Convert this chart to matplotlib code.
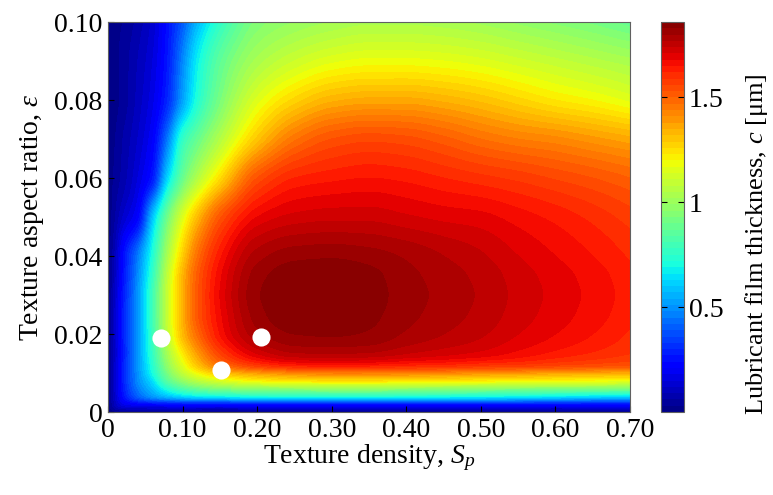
import numpy as np
import matplotlib
matplotlib.use("Agg")
import matplotlib.pyplot as plt

plt.rcParams['font.family'] = ['Liberation Serif', 'DejaVu Serif']
plt.rcParams['mathtext.fontset'] = 'custom'
plt.rcParams['mathtext.rm'] = 'Liberation Serif'
plt.rcParams['mathtext.it'] = 'Liberation Serif:italic'

# Grid of texture density (x) and aspect ratio (y)
S_p = [0, 0.01, 0.02, 0.04, 0.06, 0.08, 0.10, 0.12, 0.15, 0.20,
       0.25, 0.30, 0.35, 0.40, 0.45, 0.50, 0.55, 0.60, 0.65, 0.70]
eps = [0, 0.002, 0.004, 0.006, 0.008, 0.010, 0.012, 0.015, 0.020, 0.025,
       0.030, 0.035, 0.040, 0.050, 0.060, 0.070, 0.080, 0.090, 0.100]

# Lubricant film thickness c [um], one row per eps value
c_e0000 = [0.00, 0.02, 0.02, 0.02, 0.02, 0.02, 0.02, 0.02, 0.02, 0.02, 0.02, 0.02, 0.02, 0.02, 0.02, 0.02, 0.02, 0.02, 0.02, 0.02]
c_e0002 = [0.00, 0.10, 0.17, 0.21, 0.23, 0.24, 0.25, 0.25, 0.25, 0.26, 0.26, 0.26, 0.26, 0.26, 0.26, 0.26, 0.26, 0.25, 0.25, 0.25]
c_e0004 = [0.00, 0.12, 0.24, 0.40, 0.50, 0.57, 0.62, 0.65, 0.67, 0.70, 0.71, 0.71, 0.71, 0.70, 0.69, 0.68, 0.67, 0.65, 0.63, 0.62]
c_e0006 = [0.00, 0.13, 0.26, 0.45, 0.58, 0.72, 0.82, 0.88, 0.93, 0.96, 0.97, 0.98, 0.98, 0.97, 0.96, 0.95, 0.94, 0.93, 0.93, 0.92]
c_e0008 = [0.00, 0.13, 0.27, 0.48, 0.64, 0.85, 0.97, 1.06, 1.13, 1.20, 1.23, 1.24, 1.24, 1.23, 1.22, 1.21, 1.20, 1.19, 1.18, 1.17]
c_e0010 = [0.00, 0.13, 0.27, 0.49, 0.70, 0.92, 1.08, 1.19, 1.30, 1.38, 1.42, 1.44, 1.44, 1.43, 1.42, 1.40, 1.39, 1.37, 1.36, 1.35]
c_e0012 = [0.00, 0.13, 0.27, 0.50, 0.73, 0.97, 1.15, 1.30, 1.46, 1.58, 1.63, 1.64, 1.635, 1.62, 1.61, 1.59, 1.58, 1.56, 1.545, 1.53]
c_e0015 = [0.00, 0.12, 0.26, 0.50, 0.76, 1.02, 1.22, 1.38, 1.56, 1.71, 1.765, 1.77, 1.765, 1.74, 1.72, 1.70, 1.67, 1.64, 1.615, 1.59]
c_e0020 = [0.00, 0.13, 0.27, 0.50, 0.78, 1.08, 1.32, 1.48, 1.65, 1.79, 1.83, 1.835, 1.825, 1.795, 1.77, 1.745, 1.71, 1.68, 1.65, 1.615]
c_e0025 = [0.00, 0.13, 0.27, 0.50, 0.79, 1.10, 1.34, 1.52, 1.67, 1.815, 1.855, 1.86, 1.84, 1.81, 1.785, 1.76, 1.725, 1.695, 1.665, 1.63]
c_e0030 = [0.00, 0.12, 0.26, 0.50, 0.79, 1.10, 1.34, 1.52, 1.68, 1.825, 1.86, 1.865, 1.845, 1.815, 1.79, 1.765, 1.73, 1.70, 1.67, 1.635]
c_e0035 = [0.00, 0.11, 0.24, 0.48, 0.76, 1.08, 1.33, 1.51, 1.67, 1.815, 1.85, 1.855, 1.84, 1.81, 1.785, 1.76, 1.725, 1.695, 1.665, 1.63]
c_e0040 = [0.00, 0.10, 0.23, 0.45, 0.72, 1.03, 1.28, 1.47, 1.64, 1.785, 1.82, 1.825, 1.815, 1.795, 1.77, 1.745, 1.71, 1.68, 1.65, 1.615]
c_e0050 = [0.00, 0.06, 0.12, 0.22, 0.58, 0.90, 1.14, 1.32, 1.52, 1.68, 1.72, 1.73, 1.73, 1.715, 1.70, 1.69, 1.665, 1.64, 1.61, 1.575]
c_e0060 = [0.00, 0.04, 0.07, 0.15, 0.27, 0.62, 0.88, 1.05, 1.25, 1.53, 1.62, 1.64, 1.65, 1.64, 1.62, 1.60, 1.58, 1.555, 1.53, 1.50]
c_e0070 = [0.00, 0.03, 0.06, 0.12, 0.21, 0.45, 0.75, 0.88, 1.05, 1.30, 1.46, 1.53, 1.55, 1.54, 1.51, 1.47, 1.44, 1.42, 1.39, 1.36]
c_e0080 = [0.00, 0.02, 0.04, 0.10, 0.17, 0.30, 0.52, 0.72, 0.92, 1.15, 1.27, 1.34, 1.36, 1.36, 1.34, 1.31, 1.27, 1.23, 1.20, 1.16]
c_e0090 = [0.00, 0.02, 0.04, 0.09, 0.15, 0.27, 0.47, 0.67, 0.86, 1.03, 1.11, 1.16, 1.18, 1.18, 1.17, 1.15, 1.12, 1.09, 1.06, 1.03]
c_e0100 = [0.00, 0.02, 0.03, 0.07, 0.13, 0.25, 0.39, 0.56, 0.75, 0.94, 0.99, 1.02, 1.04, 1.04, 1.03, 1.01, 0.98, 0.95, 0.92, 0.88]

C = np.array([c_e0000, c_e0002, c_e0004, c_e0006, c_e0008, c_e0010, c_e0012,
              c_e0015, c_e0020, c_e0025, c_e0030, c_e0035, c_e0040, c_e0050,
              c_e0060, c_e0070, c_e0080, c_e0090, c_e0100])

# Marked textures (white dots)
dot_S = [0.071, 0.152, 0.205]
dot_eps = [0.019, 0.0108, 0.0192]

x_ticks = [0, 0.10, 0.20, 0.30, 0.40, 0.50, 0.60, 0.70]
x_ticklabels = ['0', '0.10', '0.20', '0.30', '0.40', '0.50', '0.60', '0.70']
y_ticks = [0, 0.02, 0.04, 0.06, 0.08, 0.10]
y_ticklabels = ['0', '0.02', '0.04', '0.06', '0.08', '0.10']
cb_ticks = [0.5, 1, 1.5]
cb_ticklabels = ['0.5', '1', '1.5']

CMIN, CMAX = 0.0, 1.86


def pchip_cols(x, Y, xn):
    """Shape-preserving cubic Hermite resampling of each column of Y (rendering only)."""
    x = np.asarray(x, float)
    Y = np.asarray(Y, float)
    h = np.diff(x)[:, None]
    d = np.diff(Y, axis=0) / h
    m = np.zeros_like(Y)
    w1 = 2 * h[1:] + h[:-1]
    w2 = h[1:] + 2 * h[:-1]
    same = (d[:-1] * d[1:]) > 0
    with np.errstate(divide='ignore', invalid='ignore'):
        hm = (w1 + w2) / (w1 / d[:-1] + w2 / d[1:])
    m[1:-1] = np.where(same, hm, 0.0)

    def edge(h0, h1, d0, d1):
        e = ((2 * h0 + h1) * d0 - h0 * d1) / (h0 + h1)
        e = np.where(np.sign(e) != np.sign(d0), 0.0, e)
        e = np.where((np.sign(d0) != np.sign(d1)) & (np.abs(e) > 3 * np.abs(d0)), 3 * d0, e)
        return e

    m[0] = edge(h[0], h[1], d[0], d[1])
    m[-1] = edge(h[-1], h[-2], d[-1], d[-2])
    k = np.clip(np.searchsorted(x, xn) - 1, 0, len(x) - 2)
    hk = (x[k + 1] - x[k])[:, None]
    t = ((xn - x[k]) / (x[k + 1] - x[k]))[:, None]
    h00 = 2 * t**3 - 3 * t**2 + 1
    h10 = t**3 - 2 * t**2 + t
    h01 = -2 * t**3 + 3 * t**2
    h11 = t**3 - t**2
    return h00 * Y[k] + h10 * hk * m[k] + h01 * Y[k + 1] + h11 * hk * m[k + 1]


fig = plt.figure(figsize=(7.73, 4.95), dpi=100)
ax = fig.add_axes([108/773, 83/495, 522/773, 390/495])
cax = fig.add_axes([661/773, 83/495, 23/773, 390/495])

# Smooth, overshoot-free rendering of the read grid
xs = np.linspace(S_p[0], S_p[-1], 420)
ys = np.linspace(eps[0], eps[-1], 360)
tmp = pchip_cols(eps, C, ys)            # along eps
Cf = pchip_cols(S_p, tmp.T, xs).T       # along S
Cf = np.clip(Cf, CMIN, CMAX - 1e-6)

levels = np.linspace(CMIN, CMAX, 63)
cf = ax.contourf(xs, ys, Cf, levels=levels, cmap='jet', vmin=CMIN, vmax=CMAX)
ax.scatter(dot_S, dot_eps, s=170, color='white', zorder=5, linewidths=0)

ax.set_xlim(0, 0.70)
ax.set_ylim(0, 0.10)
ax.set_xticks(x_ticks)
ax.set_xticklabels(x_ticklabels)
ax.set_yticks(y_ticks)
ax.set_yticklabels(y_ticklabels)
ax.tick_params(direction='in', labelsize=20, length=4, pad=4)
for sp in ax.spines.values():
    sp.set_linewidth(0.8)
    sp.set_color('#606060')
ax.set_xlabel('Texture density, $S_p$', fontsize=20, labelpad=0)
ax.set_ylabel('Texture aspect ratio, $\\varepsilon$', fontsize=20, labelpad=6)

cb = fig.colorbar(cf, cax=cax, ticks=cb_ticks)
cb.set_ticklabels(cb_ticklabels)
cb.ax.set_ylim(0, CMAX)
cb.ax.tick_params(direction='in', labelsize=20, length=4, left=True, right=True)
cb.outline.set_linewidth(0.8)
cb.outline.set_edgecolor('#606060')
cb.set_label('Lubricant film thickness, $c$ [μm]', fontsize=19)
cb.ax.yaxis.set_label_coords(3.55, 0.43)

fig.savefig('out.png', dpi=100)
